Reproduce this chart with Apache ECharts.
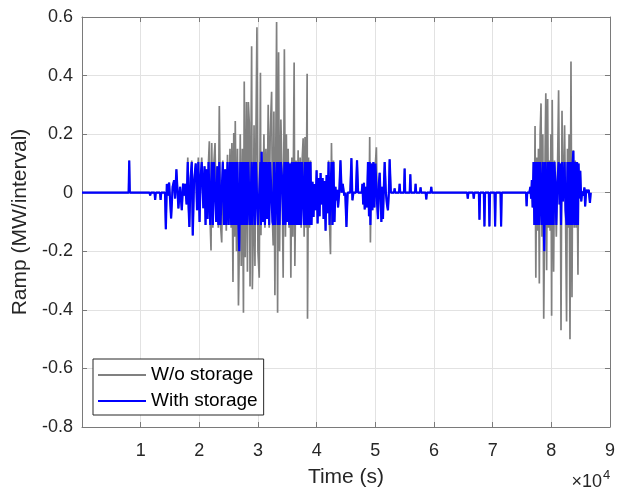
<!DOCTYPE html>
<html>
<head>
<meta charset="utf-8">
<script src="https://cdn.jsdelivr.net/npm/echarts@6/dist/echarts.min.js"></script>
<style>
html,body{margin:0;padding:0;background:#fff;}
#chart{width:618px;height:495px;}
</style>
</head>
<body>
<div id="chart"></div>
<script>
// Sample times (s)
const timeSec = [0, 7950, 8050, 8150, 11520, 11620, 11720, 12370, 12470, 12570,
 13300, 13400, 13500, 14150, 14290, 14460, 14680, 14850, 15190, 15450,
 15700, 15870, 16090, 16300, 16430, 16720, 17010, 17230, 17400, 17570,
 17830, 18030, 18170, 18300, 18510, 18710, 18880, 19100, 19390, 19610,
 19830, 20040, 20210, 20410, 20680, 20890, 21060, 21195, 21400, 21570,
 21705, 21860, 21995, 22115, 22300, 22505, 22675, 22880, 23065, 23235,
 23405, 23610, 23815, 24000, 24205, 24410, 24595, 24800, 25005, 25225,
 25430, 25550, 25735, 25870, 26010, 26125, 26330, 26500, 26670, 26805,
 26975, 27145, 27335, 27520, 27655, 27825, 28030, 28200, 28355, 28510,
 28645, 28915, 29035, 29190, 29325, 29480, 29650, 29820, 29990, 30210,
 30415, 30500, 30615, 30805, 31010, 31180, 31350, 31550, 31740, 31910,
 32080, 32320, 32470, 32590, 32710, 32880, 33170, 33340, 33510, 33680,
 33900, 34105, 34290, 34495, 34680, 34835, 34970, 35140, 35310, 35465,
 35600, 35770, 35940, 36160, 36280, 36485, 36670, 36840, 37010, 37185,
 37355, 37525, 37695, 37865, 38015, 38205, 38375, 38440, 38610, 38780,
 38950, 39120, 39290, 39465, 39635, 39805, 39990, 40160, 40330, 40500,
 40670, 40840, 41010, 41180, 41350, 41520, 41690, 41860, 42030, 42200,
 42355, 42525, 42695, 42865, 43035, 43205, 43340, 43510, 43645, 43850,
 44055, 44260, 44445, 44700, 44870, 45075, 45280, 45725, 45925, 46095,
 46265, 46690, 46880, 47065, 47680, 47800, 47935, 48055, 48190, 48360,
 48565, 48750, 48920, 49040, 49160, 49330, 49500, 49670, 49840, 50010,
 50180, 50315, 50450, 50605, 50740, 50910, 51030, 51165, 51300, 51455,
 51590, 51795, 51980, 52150, 52305, 52440, 52645, 53190, 53290, 53390,
 54040, 54140, 54240, 54890, 54995, 55090, 55860, 55965, 56060, 56760,
 56865, 56960, 57610, 57715, 57810, 58580, 58685, 58780, 59430, 59535,
 59630, 65660, 65760, 65860, 66680, 66780, 66880, 67650, 67750, 67850,
 68500, 68600, 68700, 69350, 69450, 69550, 70320, 70420, 70520, 71340,
 71440, 71540, 75690, 75790, 75890, 76255, 76425, 76560, 76680, 76815,
 76970, 77105, 77225, 77360, 77495, 77650, 77805, 77955, 78090, 78245,
 78400, 78550, 78705, 78805, 78945, 79060, 79200, 79370, 79520, 79660,
 79795, 79930, 80050, 80150, 80285, 80390, 80540, 80695, 80850, 81020,
 81240, 81395, 81530, 81650, 81820, 81970, 82125, 82260, 82415, 82600,
 82755, 82890, 83025, 83180, 83350, 83520, 83640, 83755, 83910, 84080,
 84235, 84385, 84540, 84640, 84795, 84930, 85100, 85270, 85440, 85645,
 85765, 85950, 86170, 86375, 86580, 86715];

// Ramp without storage (MW/interval)
const rampWithout = [0, 0, 0.11, 0, 0, -0.01, 0, 0, -0.025, 0,
 0, -0.025, 0, 0, -0.125, 0.03, -0.01, 0.035, -0.088, 0.02,
 0.043, -0.02, 0.08, 0, -0.054, 0.02, -0.06, 0.031, -0.01, 0.03,
 -0.04, 0.12, -0.05, -0.117, 0.05, 0.11, -0.146, 0.04, 0.10, -0.06,
 0.12, -0.10, 0.05, 0.12, -0.053, 0.09, -0.11, 0.08, -0.09, 0.11,
 0.176, -0.11, -0.197, 0.17, -0.12, 0.11, 0.17, -0.10, 0.09, -0.12,
 0.296, -0.11, -0.17, 0.11, -0.11, 0.08, -0.13, 0.13, -0.11, 0.15,
 -0.12, 0.17, -0.305, 0.204, -0.15, 0.245, -0.20, 0.15, -0.385, -0.20,
 0.20, -0.25, 0.15, -0.41, 0.38, -0.22, 0.31, -0.27, 0.31, 0.24,
 -0.32, 0.50, -0.33, -0.15, 0.23, -0.25, 0.20, 0.565, -0.20, -0.29,
 0.41, -0.145, 0.14, -0.10, 0.20, -0.12, 0.15, -0.09, 0.30, -0.12,
 0.20, 0.345, -0.10, -0.18, 0.277, -0.35, 0.583, -0.41, 0.48, -0.20,
 0.25, 0.05, -0.29, 0.49, -0.15, 0.20, -0.10, 0.15, -0.12, 0.10,
 -0.29, 0.12, -0.15, 0.445, -0.25, 0.11, -0.11, 0.145, -0.11, 0.12,
 -0.12, 0.11, 0.186, -0.15, 0.19, -0.12, 0.406, -0.43, 0.12, -0.12,
 0.11, -0.11, 0.037, -0.083, 0.03, -0.06, 0.077, -0.105, 0.05, -0.08,
 0.067, -0.04, 0.05, -0.09, 0.04, -0.13, 0.06, -0.07, 0.11, -0.11,
 -0.21, 0.17, -0.11, 0.11, -0.10, 0.02, -0.026, 0.01, -0.05, 0,
 0.111, 0, 0.03, -0.01, 0, -0.117, 0, 0, 0.118, -0.026,
 0, 0, 0.111, 0, 0, 0.03, -0.04, 0.034, -0.057, 0.02,
 -0.05, 0.105, -0.08, 0.19, -0.17, 0.10, -0.06, 0.105, -0.05, 0.10,
 0.155, -0.04, -0.09, 0.03, 0.068, -0.02, -0.10, 0.02, -0.09, 0.02,
 0.105, 0, -0.04, -0.06, 0, 0.114, 0, 0, 0.015, 0,
 0, 0.03, 0, 0, 0.083, 0, 0, 0.063, 0, 0,
 0.03, 0, 0, 0.018, 0, 0, -0.023, 0, 0, 0.02,
 0, 0, -0.02, 0, 0, -0.02, 0, 0, -0.092, 0,
 0, -0.115, 0, 0, -0.115, 0, 0, -0.115, 0, 0,
 -0.115, 0, 0, -0.046, 0, 0, 0.02, -0.02, 0.043, -0.05,
 0.105, -0.11, 0.228, -0.29, 0.12, -0.13, 0.15, -0.31, 0.20, 0.305,
 -0.15, 0.20, -0.43, -0.20, 0.15, 0.34, -0.265, 0.32, -0.12, 0.11,
 -0.13, 0.20, -0.42, 0.317, -0.05, -0.27, 0.11, 0.02, -0.15, 0.03,
 0.35, -0.04, 0.10, -0.47, 0.28, -0.03, 0.04, 0.23, -0.06, -0.44,
 0.15, -0.12, 0.20, -0.50, 0.448, -0.357, 0.12, 0.145, -0.12, 0.11,
 -0.12, 0.105, -0.28, 0.10, -0.02, 0.075, -0.03, 0.005, -0.01, 0.018,
 -0.047, 0.01, 0, 0.01, -0.035, 0];

// Ramp with storage (MW/interval)
const rampWith = [0, 0, 0.11, 0, 0, -0.01, 0, 0, -0.025, 0,
 0, -0.025, 0, 0, -0.125, 0.03, -0.01, 0.035, -0.088, 0.02,
 0.043, -0.02, 0.08, 0, -0.054, 0.02, -0.06, 0.031, -0.01, 0.03,
 -0.04, 0.105, -0.05, -0.117, 0.05, 0.105, -0.146, 0.04, 0.10, -0.06,
 0.105, -0.10, 0.05, 0.105, -0.053, 0.09, -0.11, 0.08, -0.09, 0.105,
 0.105, -0.11, -0.11, 0.105, -0.11, 0.105, 0.105, -0.10, 0.09, -0.11,
 0.105, -0.11, -0.11, 0.105, -0.11, 0.08, -0.11, 0.105, -0.11, 0.105,
 -0.11, 0.105, -0.11, 0.105, -0.11, 0.105, -0.11, 0.105, -0.11, -0.20,
 0.105, -0.11, 0.105, -0.11, 0.105, -0.11, 0.105, -0.11, 0.105, 0.105,
 -0.11, 0.105, -0.11, -0.11, 0.105, -0.11, 0.105, 0.105, -0.11, -0.11,
 0.105, -0.11, 0.14, -0.10, 0.105, -0.11, 0.105, -0.09, 0.105, -0.11,
 0.105, 0.105, -0.10, -0.11, 0.105, -0.11, 0.105, -0.11, 0.105, -0.11,
 0.105, 0.05, -0.11, 0.105, -0.11, 0.105, -0.10, 0.105, -0.11, 0.10,
 -0.11, 0.105, -0.11, 0.105, -0.11, 0.105, -0.11, 0.105, -0.11, 0.105,
 -0.11, 0.105, 0.105, -0.11, 0.105, -0.11, 0.105, -0.11, 0.105, -0.11,
 0.105, -0.11, 0.037, -0.083, 0.03, -0.06, 0.077, -0.105, 0.05, -0.08,
 0.067, -0.04, 0.05, -0.09, 0.04, -0.13, 0.06, -0.07, 0.105, -0.11,
 -0.11, 0.105, -0.11, 0.105, -0.10, 0.02, -0.026, 0.01, -0.05, 0,
 0.111, 0, 0.03, -0.01, 0, -0.117, 0, 0, 0.118, -0.026,
 0, 0, 0.111, 0, 0, 0.03, -0.04, 0.034, -0.057, 0.02,
 -0.05, 0.105, -0.08, 0.105, -0.11, 0.10, -0.06, 0.105, -0.05, 0.10,
 0.105, -0.04, -0.09, 0.03, 0.068, -0.02, -0.10, 0.02, -0.09, 0.02,
 0.105, 0, -0.04, -0.06, 0, 0.114, 0, 0, 0.015, 0,
 0, 0.03, 0, 0, 0.083, 0, 0, 0.063, 0, 0,
 0.03, 0, 0, 0.018, 0, 0, -0.023, 0, 0, 0.02,
 0, 0, -0.02, 0, 0, -0.02, 0, 0, -0.092, 0,
 0, -0.115, 0, 0, -0.115, 0, 0, -0.115, 0, 0,
 -0.115, 0, 0, -0.046, 0, 0, 0.02, -0.02, 0.043, -0.05,
 0.105, -0.11, 0.105, -0.11, 0.105, -0.11, 0.105, -0.11, 0.105, 0.105,
 -0.11, 0.105, -0.11, -0.20, 0.105, 0.105, -0.11, 0.105, -0.11, 0.105,
 -0.11, 0.105, -0.11, 0.105, -0.05, -0.11, 0.105, 0.02, -0.11, 0.03,
 0.105, -0.04, 0.10, -0.11, 0.105, -0.03, 0.04, 0.105, -0.06, -0.11,
 0.105, -0.11, 0.105, -0.11, 0.105, -0.11, 0.105, 0.143, -0.11, 0.105,
 -0.11, 0.105, -0.11, 0.10, -0.02, 0.075, -0.03, 0.005, -0.01, 0.018,
 -0.047, 0.01, 0, 0.01, -0.035, 0];

const seriesNames = ['W/o storage', 'With storage'];
const xTickStep = 10000;
const yTicks = [-0.8, -0.6, -0.4, -0.2, 0, 0.2, 0.4, 0.6];

const FONT = '"Liberation Sans", Arial, Helvetica, sans-serif';
const AXIS_COLOR = '#7a7a7a';
const TEXT_COLOR = '#262626';
const GRID_COLOR = '#e2e2e2';

const chart = echarts.init(document.getElementById('chart'), null, {renderer: 'canvas'});

const baseX = {
  type: 'value', min: 0, max: 90000, interval: xTickStep,
  axisLine: {show: true, onZero: false, lineStyle: {color: AXIS_COLOR, width: 1}},
  axisTick: {show: true, inside: true, length: 5, lineStyle: {color: AXIS_COLOR}},
  splitLine: {show: false}
};
const baseY = {
  type: 'value', min: yTicks[0], max: yTicks[yTicks.length - 1], interval: 0.2,
  axisLine: {show: true, onZero: false, lineStyle: {color: AXIS_COLOR, width: 1}},
  axisTick: {show: true, inside: true, length: 5, lineStyle: {color: AXIS_COLOR}},
  splitLine: {show: false}
};

chart.setOption({
  animation: false,
  backgroundColor: '#ffffff',
  grid: {left: 82, right: 7, top: 17, bottom: 68, containLabel: false},
  xAxis: [
    Object.assign({}, baseX, {
      position: 'bottom',
      name: 'Time (s)', nameLocation: 'middle', nameGap: 40,
      nameTextStyle: {fontFamily: FONT, fontSize: 21, color: TEXT_COLOR},
      axisLabel: {show: true, margin: 15, fontFamily: FONT, fontSize: 18, color: TEXT_COLOR,
        formatter: v => v === 0 ? '' : String(Math.round(v / xTickStep))},
      splitLine: {show: true, lineStyle: {color: GRID_COLOR, width: 1}}
    }),
    Object.assign({}, baseX, {position: 'top', axisLabel: {show: false}})
  ],
  yAxis: [
    Object.assign({}, baseY, {
      position: 'left',
      name: 'Ramp (MW/interval)', nameLocation: 'middle', nameGap: 50,
      nameTextStyle: {fontFamily: FONT, fontSize: 21, color: TEXT_COLOR},
      axisLabel: {show: true, margin: 9, fontFamily: FONT, fontSize: 18, color: TEXT_COLOR,
        formatter: v => String(Math.round(v * 10) / 10)},
      splitLine: {show: true, lineStyle: {color: GRID_COLOR, width: 1}}
    }),
    Object.assign({}, baseY, {position: 'right', axisLabel: {show: false}})
  ],
  legend: {
    data: seriesNames,
    orient: 'vertical',
    left: 93, top: 359,
    padding: [6, 6, 4, 5],
    itemGap: 6,
    itemWidth: 48, itemHeight: 2,
    icon: 'rect',
    backgroundColor: '#ffffff',
    borderColor: '#262626', borderWidth: 1,
    textStyle: {fontFamily: FONT, fontSize: 19, color: '#000', lineHeight: 20}
  },
  graphic: [
    {type: 'text', z: 10, style: {x: 602, y: 491, text: '\u00d710', textAlign: 'right', textVerticalAlign: 'bottom',
      font: '18px "Liberation Sans", Arial, sans-serif', fill: TEXT_COLOR}},
    {type: 'text', z: 10, style: {x: 603, y: 482, text: '4', textAlign: 'left', textVerticalAlign: 'bottom',
      font: '13px "Liberation Sans", Arial, sans-serif', fill: TEXT_COLOR}}
  ],
  series: [
    {
      name: seriesNames[0], type: 'line', xAxisIndex: 0, yAxisIndex: 0,
      data: timeSec.map((t, i) => [t, rampWithout[i]]),
      showSymbol: false, symbol: 'none',
      lineStyle: {color: '#808080', width: 1.7},
      itemStyle: {color: '#808080'},
      z: 2
    },
    {
      name: seriesNames[1], type: 'line', xAxisIndex: 0, yAxisIndex: 0,
      data: timeSec.map((t, i) => [t, rampWith[i]]),
      showSymbol: false, symbol: 'none',
      lineStyle: {color: '#0000ff', width: 2.2},
      itemStyle: {color: '#0000ff'},
      z: 3
    }
  ]
});
</script>
</body>
</html>
